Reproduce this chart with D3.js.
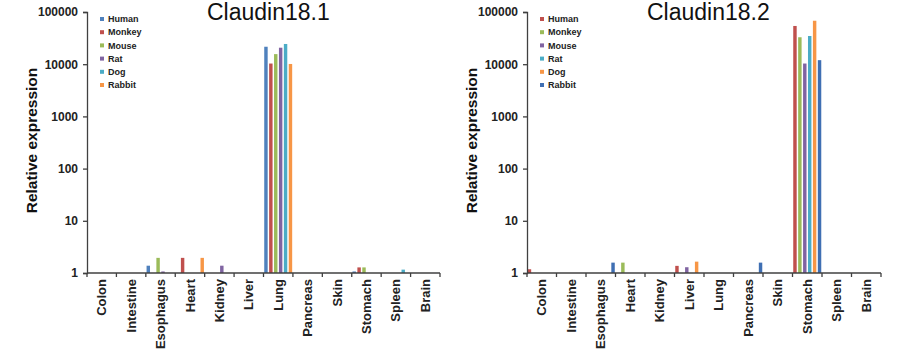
<!DOCTYPE html>
<html>
<head>
<meta charset="utf-8">
<script src="https://cdn.jsdelivr.net/npm/d3@7"></script>
<style>
  body { margin: 0; background: #fff; }
  svg { font-family: "Liberation Sans", Arial, sans-serif; }
</style>
</head>
<body>
<svg id="chart" width="905" height="362"></svg>
<script>
const tissues = ["Colon", "Intestine", "Esophagus", "Heart", "Kidney", "Liver",
    "Lung", "Pancreas", "Skin", "Stomach", "Spleen", "Brain"];
const species = ["Human", "Monkey", "Mouse", "Rat", "Dog", "Rabbit"];
const yTicks = [1, 10, 100, 1000, 10000, 100000];

// Claudin18.1, one array per species, one value per tissue (null = no bar)
const cl181Human  = [null, null, 1.38, null, null, null, 21600, null, null, 1.07, null, null];
const cl181Monkey = [null, null, null, 1.95, null, null, 10300, null, null, 1.28, null, null];
const cl181Mouse  = [null, null, 1.95, null, null, null, 15600, null, null, 1.28, null, null];
const cl181Rat    = [null, null, 1.07, null, 1.38, null, 20700, null, null, null, null, null];
const cl181Dog    = [null, null, null, null, null, null, 24400, null, null, null, 1.16, null];
const cl181Rabbit = [null, null, null, 1.95, null, null, 10100, null, null, null, null, null];

// Claudin18.2
const cl182Human  = [1.18, null, null, null, null, 1.37, null, null, null, 54000, null, null];
const cl182Monkey = [null, null, null, 1.58, null, null, null, null, null, 32800, null, null];
const cl182Mouse  = [null, null, null, null, null, 1.29, null, null, null, 10300, null, null];
const cl182Rat    = [null, null, null, null, null, null, null, null, null, 34700, null, null];
const cl182Dog    = [null, null, null, null, null, 1.65, null, null, null, 68000, null, null];
const cl182Rabbit = [null, null, 1.58, null, null, null, null, 1.58, null, 11950, null, null];

const colors181 = ["#4F81BD", "#C0504D", "#9BBB59", "#8064A2", "#4BACC6", "#F79646"];
const colors182 = ["#C0504D", "#9BBB59", "#8064A2", "#4BACC6", "#F79646", "#3F6FB3"];

const svg = d3.select("#chart");
const plotTop = 12, plotBottom = 273;

function panel(left, right, title, titleX, series, colors) {
    const g = svg.append("g");

    const x = d3.scaleBand().domain(tissues).range([left, right]);
    const xs = d3.scaleBand().domain(species).range([0, x.bandwidth()])
        .paddingInner(0.3).paddingOuter(0.15);
    const y = d3.scaleLog().domain([1, 100000]).range([plotBottom, plotTop]);

    // bars
    species.forEach((sp, si) => {
        g.append("g").selectAll("rect")
            .data(series[si].map((v, i) => ({v, t: tissues[i]})).filter(d => d.v !== null))
            .join("rect")
            .attr("x", d => x(d.t) + xs(sp))
            .attr("width", xs.bandwidth())
            .attr("y", d => y(d.v))
            .attr("height", d => y(1) - y(d.v))
            .attr("fill", colors[si]);
    });

    // y axis
    g.append("g")
        .attr("transform", `translate(${left},0)`)
        .call(d3.axisLeft(y).tickValues(yTicks).tickFormat(d3.format("d")).tickSize(4).tickPadding(5))
        .call(a => a.selectAll("line, path").attr("stroke", "#404040").attr("stroke-width", 1.3))
        .call(a => a.selectAll("text").attr("font-size", 12).attr("font-weight", "bold")
            .attr("fill", "#222").attr("font-family", "Liberation Sans, Arial, sans-serif"));

    // x axis: ticks at category boundaries
    const xa = g.append("g");
    xa.append("line")
        .attr("x1", left).attr("x2", right)
        .attr("y1", plotBottom).attr("y2", plotBottom)
        .attr("stroke", "#404040").attr("stroke-width", 1.3);
    xa.selectAll("line.tk")
        .data(tissues.concat(["end"]))
        .join("line")
        .attr("class", "tk")
        .attr("x1", (d, i) => i < tissues.length ? x(d) : right)
        .attr("x2", (d, i) => i < tissues.length ? x(d) : right)
        .attr("y1", plotBottom).attr("y2", plotBottom + 4)
        .attr("stroke", "#404040").attr("stroke-width", 1.3);
    xa.selectAll("text")
        .data(tissues)
        .join("text")
        .attr("transform", d => `translate(${x(d) + x.bandwidth() / 2},${plotBottom + 6}) rotate(-90)`)
        .attr("text-anchor", "end")
        .attr("dy", "0.35em")
        .attr("font-size", 13)
        .attr("font-weight", "bold")
        .attr("fill", "#222")
        .text(d => d);

    // y title
    g.append("text")
        .attr("transform", `translate(${left - 55},${(plotTop + plotBottom) / 2 - 2}) rotate(-90)`)
        .attr("text-anchor", "middle")
        .attr("dy", "0.35em")
        .attr("font-size", 15.5)
        .attr("font-weight", "bold")
        .attr("fill", "#111")
        .text("Relative expression");

    // title
    g.append("text")
        .attr("x", titleX).attr("y", 20)
        .attr("font-size", 23)
        .attr("fill", "#111")
        .text(title);

    // legend
    const lg = g.append("g").attr("transform", `translate(${left + 13},19)`);
    species.forEach((sp, si) => {
        lg.append("rect")
            .attr("x", 0).attr("y", si * 13.2 - 2)
            .attr("width", 4).attr("height", 4)
            .attr("fill", colors[si]);
        lg.append("text")
            .attr("x", 8).attr("y", si * 13.2)
            .attr("dy", "0.35em")
            .attr("font-size", 9)
            .attr("font-weight", "bold")
            .attr("fill", "#222")
            .text(sp);
    });
}

panel(87, 440, "Claudin18.1", 207,
    [cl181Human, cl181Monkey, cl181Mouse, cl181Rat, cl181Dog, cl181Rabbit], colors181);
panel(527, 881, "Claudin18.2", 647,
    [cl182Human, cl182Monkey, cl182Mouse, cl182Rat, cl182Dog, cl182Rabbit], colors182);
</script>
</body>
</html>
